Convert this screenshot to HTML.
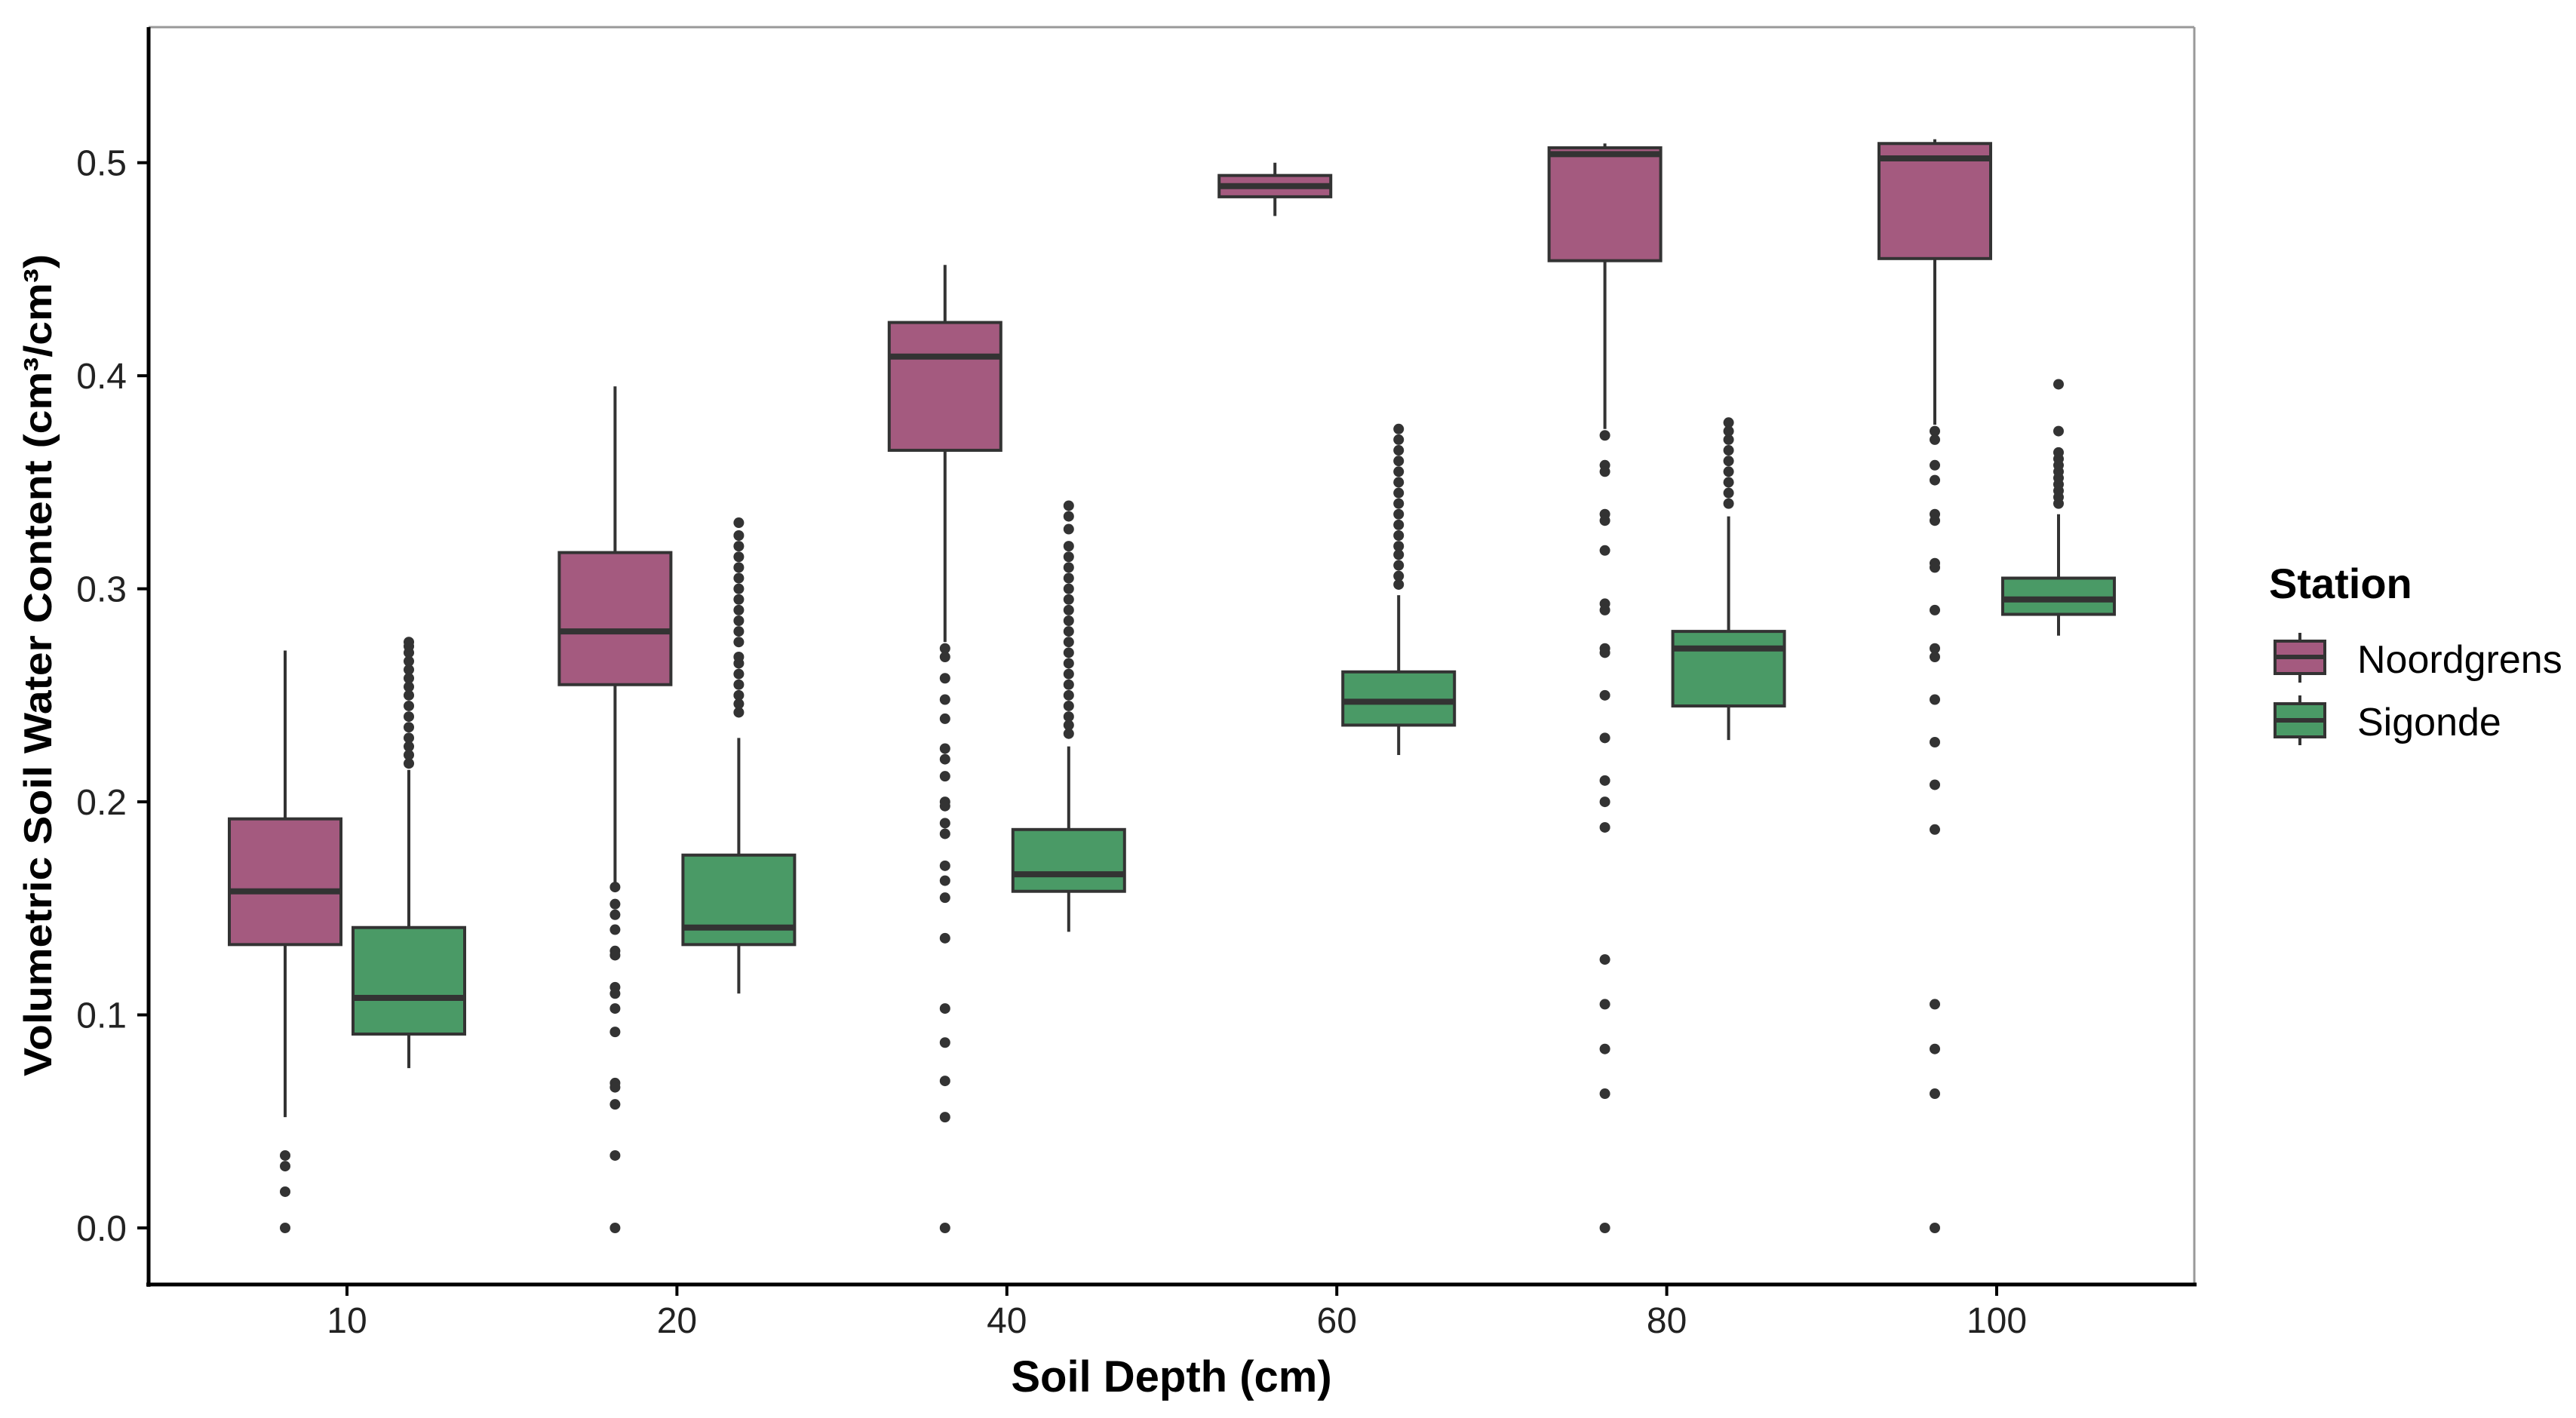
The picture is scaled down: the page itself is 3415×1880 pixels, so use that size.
<!DOCTYPE html>
<html><head><meta charset="utf-8"><style>
html,body{margin:0;padding:0;background:#fff;}
svg{display:block;font-family:"Liberation Sans",Arial,sans-serif;}
</style></head><body>
<svg id="chart" width="3415" height="1880" viewBox="0 0 3415 1880" xmlns="http://www.w3.org/2000/svg">
<rect x="0" y="0" width="3415" height="1880" fill="#fff"/>
<g id="plot"></g>
<g id="legend">
  <text x="3008" y="793" font-size="56" font-weight="bold">Station</text>
  <g>
    <line x1="3049" x2="3049" y1="839" y2="905" stroke="#333" stroke-width="4"/>
    <rect x="3016" y="850" width="66" height="43" fill="#a45a7f" stroke="#333" stroke-width="4"/>
    <line x1="3016" x2="3082" y1="871" y2="871" stroke="#333" stroke-width="6"/>
    <text x="3125" y="892" font-size="52">Noordgrens</text>
  </g>
  <g>
    <line x1="3049" x2="3049" y1="922" y2="988" stroke="#333" stroke-width="4"/>
    <rect x="3016" y="933" width="66" height="44" fill="#4a9a66" stroke="#333" stroke-width="4"/>
    <line x1="3016" x2="3082" y1="955" y2="955" stroke="#333" stroke-width="6"/>
    <text x="3125" y="975" font-size="52">Sigonde</text>
  </g>
</g>
</svg>
<script>
const categories = ["10","20","40","60","80","100"];
const yTicks = [0.0,0.1,0.2,0.3,0.4,0.5];
const yTickLabels = ["0.0","0.1","0.2","0.3","0.4","0.5"];
// Noordgrens: [whiskerLow, q1, median, q3, whiskerHigh]
const noordStats = [
  [0.052,0.133,0.158,0.192,0.271],
  [0.160,0.255,0.280,0.317,0.395],
  [0.275,0.365,0.409,0.425,0.452],
  [0.475,0.484,0.489,0.494,0.500],
  [0.375,0.454,0.504,0.507,0.509],
  [0.377,0.455,0.502,0.509,0.511]
];
const sigStats = [
  [0.075,0.091,0.108,0.141,0.215],
  [0.110,0.133,0.141,0.175,0.230],
  [0.139,0.158,0.166,0.187,0.226],
  [0.222,0.236,0.247,0.261,0.297],
  [0.229,0.245,0.272,0.280,0.334],
  [0.278,0.288,0.295,0.305,0.335]
];
const noordOutliers = [
  [0.034,0.029,0.017,0.0],
  [0.160,0.152,0.147,0.140,0.130,0.128,0.113,0.110,0.103,0.092,0.068,0.066,0.058,0.034,0.0],
  [0.272,0.268,0.258,0.248,0.239,0.225,0.220,0.212,0.200,0.198,0.190,0.185,0.170,0.163,0.155,0.136,0.103,0.087,0.069,0.052,0.0],
  [],
  [0.372,0.358,0.355,0.335,0.332,0.318,0.293,0.290,0.272,0.270,0.250,0.230,0.210,0.200,0.188,0.126,0.105,0.084,0.063,0.0],
  [0.374,0.370,0.358,0.351,0.335,0.332,0.312,0.310,0.290,0.272,0.268,0.248,0.228,0.208,0.187,0.105,0.084,0.063,0.0]
];
const sigOutliers = [
  [0.218,0.222,0.226,0.230,0.235,0.240,0.245,0.250,0.254,0.258,0.262,0.266,0.270,0.273,0.275],
  [0.242,0.246,0.250,0.255,0.260,0.265,0.268,0.275,0.280,0.285,0.290,0.295,0.300,0.305,0.310,0.315,0.320,0.325,0.331],
  [0.232,0.236,0.240,0.245,0.250,0.255,0.260,0.265,0.270,0.275,0.280,0.285,0.290,0.295,0.300,0.305,0.310,0.315,0.320,0.328,0.334,0.339],
  [0.302,0.306,0.311,0.316,0.320,0.325,0.330,0.335,0.340,0.345,0.350,0.355,0.360,0.365,0.370,0.375],
  [0.340,0.345,0.350,0.355,0.360,0.365,0.370,0.374,0.378],
  [0.340,0.343,0.346,0.349,0.352,0.355,0.358,0.361,0.364,0.374,0.396]
];
const NS="http://www.w3.org/2000/svg";
const X0=460, XSTEP=437.4, Y0=1628, YPER=2824.6;
const xPos=i=>X0+i*XSTEP;
const yPos=v=>Y0-v*YPER;
const plot=document.getElementById('plot');
function mk(tag,attrs,parent){const e=document.createElementNS(NS,tag);for(const k in attrs)e.setAttribute(k,attrs[k]);(parent||plot).appendChild(e);return e;}
let f=mk('line',{x1:197,x2:2909,y1:36,y2:36,stroke:'#999','stroke-width':3});


f=mk('line',{x1:2909,x2:2909,y1:36,y2:1703,stroke:'#999','stroke-width':3});


const HW=74, OFF=82;
function drawBox(stats,outs,cx,color,name){
  const g=mk('g',{});
  
  
  const [lo,q1,md,q3,hi]=stats;
  mk('line',{x1:cx,x2:cx,y1:yPos(hi),y2:yPos(lo),stroke:'#333','stroke-width':4},g);
  const r=mk('rect',{x:cx-HW,y:yPos(q3),width:2*HW,height:Math.max(1,yPos(q1)-yPos(q3)),fill:color,stroke:'#333','stroke-width':4},g);
  
  
  mk('line',{x1:cx-HW,x2:cx+HW,y1:yPos(md),y2:yPos(md),stroke:'#333','stroke-width':8},g);
  outs.forEach(v=>{
    const c=mk('circle',{cx:cx,cy:yPos(v),r:7,fill:'#333'},g);
    
    
  });
}
categories.forEach((c,i)=>{
  drawBox(noordStats[i],noordOutliers[i],xPos(i)-OFF,'#a45a7f','box-noordgrens-'+c);
  drawBox(sigStats[i],sigOutliers[i],xPos(i)+OFF,'#4a9a66','box-sigonde-'+c);
});
let a=mk('line',{x1:197,x2:197,y1:36,y2:1706,stroke:'#000','stroke-width':5});


a=mk('line',{x1:194,x2:2912,y1:1703,y2:1703,stroke:'#000','stroke-width':5});


yTicks.forEach((v,i)=>{
  mk('line',{x1:182,x2:197,y1:yPos(v),y2:yPos(v),stroke:'#000','stroke-width':4});
  const t=mk('text',{x:168,y:yPos(v)+17,'font-size':48,'text-anchor':'end',fill:'#222'});
  t.textContent=yTickLabels[i];
  
  
});
categories.forEach((c,i)=>{
  mk('line',{x1:xPos(i),x2:xPos(i),y1:1703,y2:1718,stroke:'#000','stroke-width':4});
  const t=mk('text',{x:xPos(i),y:1767,'font-size':48,'text-anchor':'middle',fill:'#222'});
  t.textContent=c;
  
  
});
let t=mk('text',{x:1553,y:1845,'font-size':58,'font-weight':'bold','text-anchor':'middle'});
t.textContent='Soil Depth (cm)';


t=mk('text',{x:0,y:0,'font-size':52,'font-weight':'bold','text-anchor':'middle',transform:'translate(68,882) rotate(-90)',textLength:1090,lengthAdjust:'spacingAndGlyphs'});
t.textContent='Volumetric Soil Water Content (cm³/cm³)';


</script>
</body></html>
